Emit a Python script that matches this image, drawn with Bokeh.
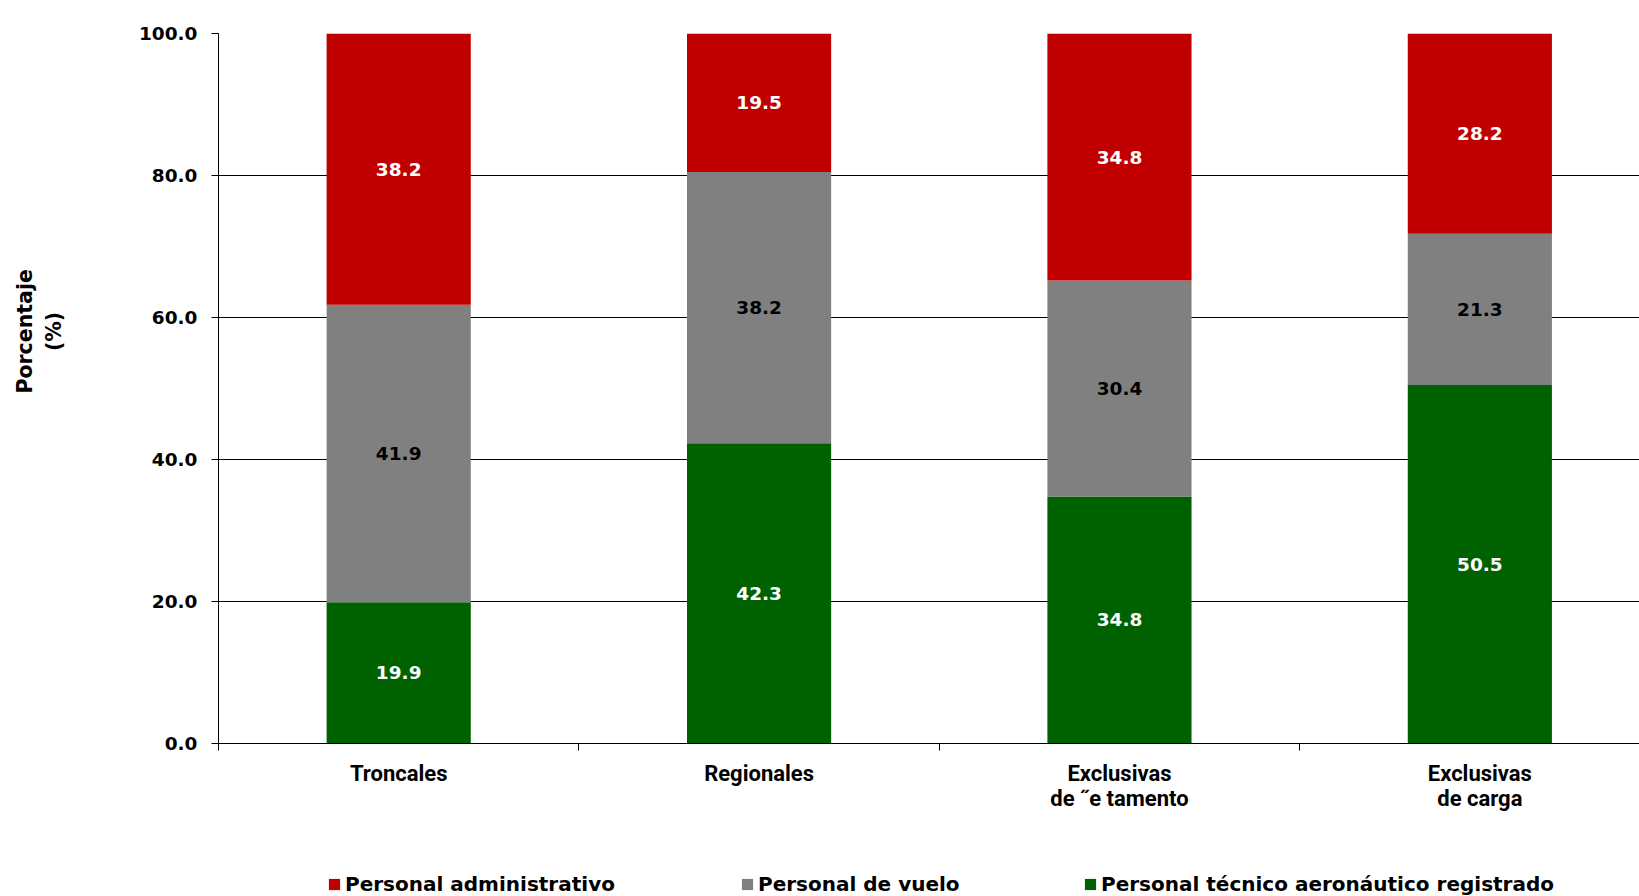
import math
from bokeh.plotting import figure
from bokeh.layouts import column
from bokeh.models import (ColumnDataSource, FixedTicker, NumeralTickFormatter, Legend,
                          LegendItem)
from bokeh.core.properties import value
from bokeh.embed import file_html
from bokeh.resources import INLINE

# ---- data ----
categories = ["Troncales", "Regionales", "Exclusivas\nde \u02dde tamento", "Exclusivas\nde carga"]
tecnico = [19.9, 42.3, 34.8, 50.5]
vuelo = [41.9, 38.2, 30.4, 21.3]
administrativo = [38.2, 19.5, 34.8, 28.2]
series_names = ["Personal administrativo", "Personal de vuelo", "Personal técnico aeronáutico registrado"]
y_ticks = [0, 20, 40, 60, 80, 100]
y_title = ["Porcentaje", "(%)"]

RED = "#C00000"
GRAY = "#808080"
GREEN = "#006100"

xs = [i + 0.5 for i in range(len(categories))]
src = ColumnDataSource(dict(x=xs, tec=tecnico, vuelo=vuelo, adm=administrativo))

p = figure(width=1639, height=830, x_range=(0, 3.943), y_range=(0, 100),
           output_backend="svg", toolbar_location=None,
           min_border_left=218, min_border_right=0, min_border_top=33, min_border_bottom=87)
p.outline_line_color = None
p.background_fill_color = "white"
p.border_fill_color = "white"

rs = p.vbar_stack(["tec", "vuelo", "adm"], x="x", width=0.4, source=src,
                  color=[GREEN, GRAY, RED], line_color=None)

# value labels
lx, ly, lt, lc = [], [], [], []
for i in range(len(categories)):
    b = 0.0
    for vals, col in ((tecnico, "white"), (vuelo, "black"), (administrativo, "white")):
        v = vals[i]
        lx.append(xs[i]); ly.append(b + v / 2); lt.append(f"{v:.1f}"); lc.append(col)
        b += v
p.text(x=lx, y=ly, text=lt, text_color=lc, text_font=value("DejaVu Sans"),
       text_font_style="bold", text_font_size="18.5px", text_align="center",
       text_baseline="middle")

# x axis
xa = p.xaxis[0]
xa.ticker = FixedTicker(ticks=xs, minor_ticks=[0, 1, 2, 3, 4])
xa.major_label_overrides = {x: c for x, c in zip(xs, categories)}
xa.major_tick_out = 0
xa.major_tick_in = 0
xa.minor_tick_out = 7
xa.minor_tick_in = 0
xa.minor_tick_line_color = "black"
xa.axis_line_color = "black"
xa.major_label_text_font = "Roboto"
xa.major_label_text_font_style = "bold"
xa.major_label_text_font_size = "22px"
xa.major_label_text_color = "black"
xa.major_label_text_line_height = 1.0
xa.major_label_standoff = 10

# y axis
ya = p.yaxis[0]
ya.ticker = FixedTicker(ticks=y_ticks, minor_ticks=[])
ya.formatter = NumeralTickFormatter(format="0.0")
ya.major_tick_out = 7
ya.major_tick_in = 0
ya.major_tick_line_color = "black"
ya.axis_line_color = "black"
ya.major_label_text_font = "DejaVu Sans"
ya.major_label_text_font_style = "bold"
ya.major_label_text_font_size = "18.5px"
ya.major_label_text_color = "black"
ya.major_label_standoff = 14
pad = "\u00a0" * 16
ya.axis_label = "\n".join(pad + t for t in y_title)
ya.axis_label_text_font = "DejaVu Sans"
ya.axis_label_text_font_style = "bold"
ya.axis_label_text_font_size = "20.5px"
ya.axis_label_text_color = "black"
ya.axis_label_standoff = 70

p.xgrid.grid_line_color = None
p.ygrid.ticker = FixedTicker(ticks=y_ticks)
p.ygrid.grid_line_color = "black"
p.ygrid.grid_line_width = 1

# legend strip below the chart (its frame is aligned with the chart frame)
lf = figure(width=1639, height=66, x_range=(0, 1), y_range=(0, 1),
            output_backend="svg", toolbar_location=None,
            x_axis_type=None, y_axis_type=None,
            min_border_left=0, min_border_right=0, min_border_top=0, min_border_bottom=0)
lf.outline_line_color = None
lf.xgrid.visible = False
lf.ygrid.visible = False
leg_colors = [RED, GRAY, GREEN]
leg_x = [109, 522, 865]
for name, col, lxo in zip(series_names, leg_colors, leg_x):
    r = lf.vbar(x=[0.5], top=[0], bottom=[0], width=0.1, color=col, line_color=None)
    leg = Legend(items=[LegendItem(label=name, renderers=[r])], location=(lxo, 0),
                 orientation="horizontal", border_line_color=None,
                 background_fill_alpha=0, padding=0, margin=0,
                 glyph_width=14, glyph_height=14, label_standoff=4,
                 label_text_font="DejaVu Sans", label_text_font_style="bold",
                 label_text_font_size="20px", label_text_color="black")
    lf.add_layout(leg)

layout = column(p, lf, spacing=0)
open("out.html", "w").write(file_html(layout, INLINE))
